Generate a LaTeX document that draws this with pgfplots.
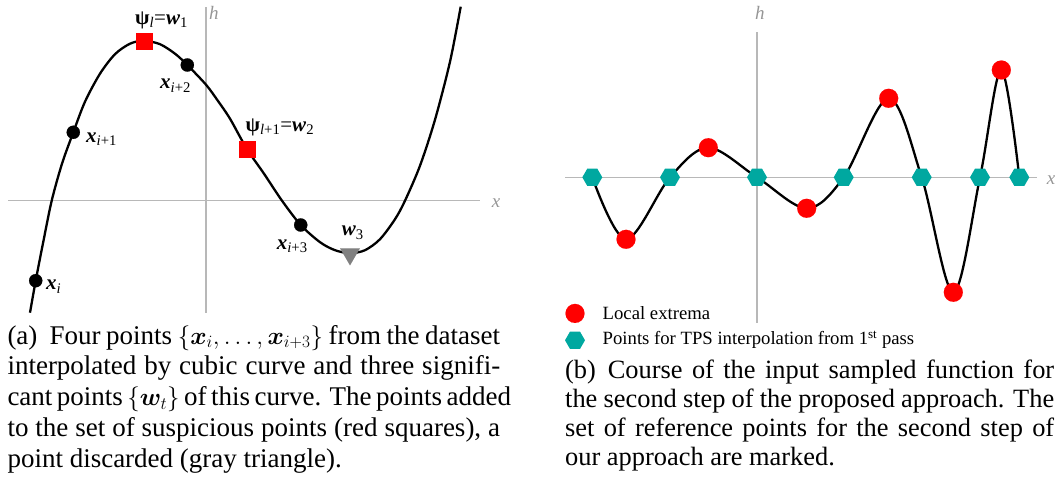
\documentclass[border=0pt]{standalone}
\usepackage{fontspec}
\setmainfont{Liberation Serif}
\usepackage{bm}
\usepackage{pgfplots}
\pgfplotsset{compat=1.18}
\usetikzlibrary{plotmarks}

\definecolor{extremred}{RGB}{255,0,0}
\definecolor{tpsteal}{RGB}{0,168,160}
\definecolor{axisgray}{RGB}{184,184,184}
\definecolor{labelgray}{RGB}{150,150,150}
\definecolor{dropgray}{RGB}{128,128,128}

% filled hexagon, pointed left and right
\pgfdeclareplotmark{hexagon*}{%
  \pgfpathmoveto{\pgfqpointpolar{0}{\pgfplotmarksize}}%
  \pgfpathlineto{\pgfqpointpolar{60}{\pgfplotmarksize}}%
  \pgfpathlineto{\pgfqpointpolar{120}{\pgfplotmarksize}}%
  \pgfpathlineto{\pgfqpointpolar{180}{\pgfplotmarksize}}%
  \pgfpathlineto{\pgfqpointpolar{240}{\pgfplotmarksize}}%
  \pgfpathlineto{\pgfqpointpolar{300}{\pgfplotmarksize}}%
  \pgfpathclose
  \pgfusepathqfill}

\newcommand{\lbl}{\fontsize{21}{25}\selectfont}
\newcommand{\axl}{\fontsize{19}{23}\selectfont\itshape\color{labelgray}}
\newcommand{\capfonta}{\fontsize{27}{30.9}\selectfont}
\newcommand{\capfontb}{\fontsize{26.4}{29}\selectfont}
\newcommand{\bx}{\textbf{\textit{x}}}
\newcommand{\bw}{\textbf{\textit{w}}}

\pgfplotsset{
  sketch/.style={
    x=1pt, y=1pt, hide axis, clip=false, enlargelimits=false,
  },
  single mark legend/.style={
    legend image code/.code={\draw[##1, only marks] plot coordinates {(0pt,#1)};},
  },
}

\begin{document}
\begin{tikzpicture}
\path[use as bounding box] (0pt,0pt) rectangle (1057pt,-486pt);

% ---------- (a) cubic through four data points ----------
\begin{axis}[sketch, at={(8.3pt,-312.7pt)}, anchor=south west,
  xmin=-197.7, xmax=274, ymin=-112, ymax=194]
\draw[axisgray, line width=1.3pt] (axis cs:-197.7,0) -- (axis cs:274,0);
\draw[axisgray, line width=1.3pt] (axis cs:0,-112) -- (axis cs:0,194);
\addplot[black, line width=2.3pt, smooth, tension=0.5] coordinates {
  (-176,-112) (-170.3,-80) (-162.5,-40) (-154.3,0) (-144,37) (-132.7,68.4)
  (-121,99) (-106,127) (-91,146.5) (-76,157) (-62,160) (-46,156.5)
  (-31,147) (-18.7,135.7) (0,116) (11.3,100.7) (24,82) (40.7,52)
  (58,27) (76,0) (94.7,-24.3) (114,-41.5) (129,-49.5) (144,-52.5)
  (159,-49.5) (174,-38.5) (189,-18.5) (199,0) (214,35) (229,81)
  (244,139) (254.7,194)
};
% data points x_i ... x_{i+3}
\addplot[only marks, mark=*, mark size=6.6pt, mark options={fill=black, draw=black, line width=0.2pt}]
  coordinates {(-170.3,-80) (-132.7,68.4) (-18.7,135.7) (94.7,-24.3)};
% suspicious points
\addplot[only marks, mark=square*, mark size=8pt, mark options={fill=extremred, draw=extremred, line width=0.1pt}]
  coordinates {(-62,160) (40.7,52)};
% discarded point
\addplot[only marks, mark=triangle*, mark size=11.3pt, mark options={rotate=180, fill=dropgray, draw=dropgray, line width=0.1pt}]
  coordinates {(144,-53.3)};

\node[anchor=base west, inner sep=0pt, font=\lbl] at (axis cs:-160,-89.3) {\bx\textsubscript{\textit{i}}};
\node[anchor=base west, inner sep=0pt, font=\lbl] at (axis cs:-120,58) {\bx\textsubscript{\textit{i}+1}};
\node[anchor=base west, inner sep=0pt, font=\lbl] at (axis cs:-46,111.7) {\bx\textsubscript{\textit{i}+2}};
\node[anchor=base west, inner sep=0pt, font=\lbl] at (axis cs:70.7,-48.6) {\bx\textsubscript{\textit{i}+3}};
\node[anchor=base west, inner sep=0pt, font=\lbl] at (axis cs:-71,176.2) {\textbf{ψ}\textsubscript{\textit{l}}=\bw\textsubscript{1}};
\node[anchor=base west, inner sep=0pt, font=\lbl] at (axis cs:39.5,69) {\textbf{ψ}\textsubscript{\textit{l}+1}=\bw\textsubscript{2}};
\node[anchor=base west, inner sep=0pt, font=\lbl] at (axis cs:135.7,-35.3) {\bw\textsubscript{3}};
\node[anchor=base west, inner sep=0pt, font=\axl] at (axis cs:3,180.7) {h};
\node[anchor=base west, inner sep=0pt, font=\axl] at (axis cs:285.7,-6.6) {x};
\end{axis}

% ---------- (b) sampled function, extrema and TPS points ----------
\begin{axis}[sketch, at={(565pt,-322.7pt)}, anchor=south west,
  xmin=-192, xmax=279.7, ymin=-145.4, ymax=145,
  legend style={at={(axis description cs:0,0.0646)}, anchor=north west,
    draw=none, fill=none, inner sep=0pt, outer sep=0pt, row sep=5.7pt,
    font=\fontsize{18.7}{22}\selectfont, cells={anchor=base west},
    /tikz/every odd column/.append style={column sep=15.7pt}}]
\draw[axisgray, line width=1.3pt] (axis cs:-192,0) -- (axis cs:279.7,0);
\draw[axisgray, line width=1.3pt] (axis cs:0,-145.4) -- (axis cs:0,145);
\addplot[black, line width=2.3pt, smooth, tension=0.55, forget plot] coordinates {
  (-164.7,0) (-131,-62) (-87,0) (-48.7,29.6) (0,0) (49.7,-31) (86.7,0)
  (131.7,79) (164.7,0) (196.3,-115) (223,0) (244.3,107.3) (262.3,0)
};
\addplot[only marks, mark=*, mark size=9.5pt,
  mark options={fill=extremred, draw=extremred, line width=0.1pt},
  single mark legend=6.5pt]
  coordinates {(-131,-62) (-48.7,29.6) (49.7,-31) (131.7,79) (196.3,-115) (244.3,107.3)};
\addlegendentry{Local extrema}
\addplot[only marks, mark=hexagon*, mark size=10pt,
  mark options={fill=tpsteal}, single mark legend=4.5pt]
  coordinates {(-164.7,0) (-87,0) (0,0) (86.7,0) (164.7,0) (223,0) (262.3,0)};
\addlegendentry{Points for TPS interpolation from 1\textsuperscript{st} pass}

\node[anchor=base west, inner sep=0pt, font=\axl] at (axis cs:-2,157.3) {h};
\node[anchor=base west, inner sep=0pt, font=\axl] at (axis cs:289.7,-7.7) {x};
\end{axis}

% ---------- captions (node baseline = last line) ----------
\node[anchor=base west, inner sep=0pt, align=left, font=\capfonta] at (7.3pt,-467.6pt) {%
  \makebox[492.7pt][s]{(a)\hspace{0.45em}Four points $\{\bm{x}_i,\dots,\bm{x}_{i+3}\}$ from the dataset}\\
  \makebox[492.7pt][s]{interpolated by cubic curve and three signifi-}\\
  \makebox[492.7pt][s]{cant points $\{\bm{w}_t\}$ of this curve. The points added}\\
  \makebox[492.7pt][s]{to the set of suspicious points (red squares), a}\\
  point discarded (gray triangle).};
\node[anchor=base west, inner sep=0pt, align=left, font=\capfontb] at (565pt,-465.5pt) {%
  \makebox[489pt][s]{(b)\hspace{0.45em}Course of the input sampled function for}\\
  \makebox[489pt][s]{the second step of the proposed approach. The}\\
  \makebox[489pt][s]{set of reference points for the second step of}\\
  our approach are marked.};
\end{tikzpicture}
\end{document}
